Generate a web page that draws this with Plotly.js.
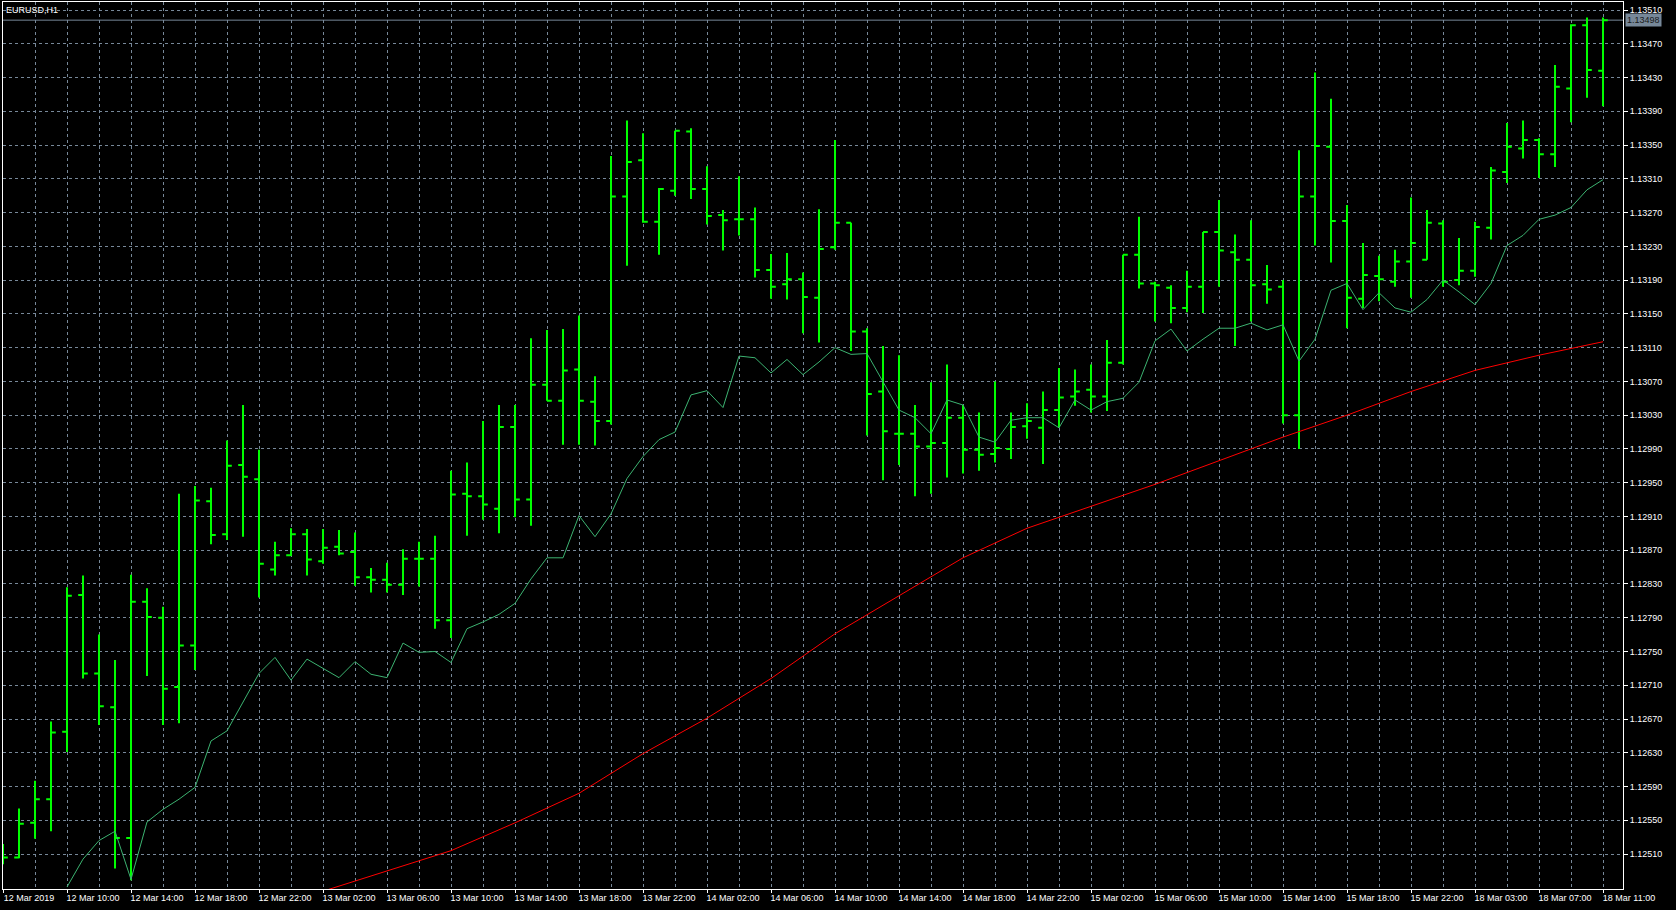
<!DOCTYPE html>
<html>
<head>
<meta charset="utf-8">
<script src="https://cdn.plot.ly/plotly-3.0.1.min.js"></script>
<style>
  html, body { margin: 0; padding: 0; background: #000; }
  #chart { width: 1676px; height: 910px; }
</style>
</head>
<body>
<div id="chart"></div>
<script>
// EURUSD H1 bars (bar index 0 = 12 Mar 2019 06:00)
const openP = [1.12512,1.12506,1.12547,1.12575,1.12655,1.12817,1.12724,1.12684,1.12529,1.12809,
  1.12790,1.12708,1.12757,1.12928,1.12889,1.12971,1.12954,1.12847,1.12864,1.12889,
  1.12857,1.12874,1.12868,1.12838,1.12835,1.12829,1.12860,1.12860,1.12787,1.12937,
  1.12934,1.12919,1.13016,1.12930,1.13066,1.13047,1.13084,1.13046,1.13023,1.13289,
  1.13332,1.13259,1.13296,1.13366,1.13298,1.13267,1.13262,1.13262,1.13202,1.13185,
  1.13191,1.13169,1.13229,1.13258,1.13129,1.13058,1.13008,1.13008,1.12993,1.12997,
  1.13027,1.12989,1.12984,1.12990,1.13017,1.13015,1.13036,1.13052,1.13060,1.13052,
  1.13092,1.13220,1.13186,1.13181,1.13157,1.13182,1.13247,1.13223,1.13214,1.13185,
  1.13182,1.13030,1.13289,1.13348,1.13260,1.13168,1.13195,1.13188,1.13212,1.13214,
  1.13257,1.13190,1.13201,1.13252,1.13318,1.13346,1.13356,1.13339,1.13417,1.13492,
  1.13438];
const highP = [1.12522,1.12564,1.12597,1.12667,1.12826,1.12840,1.12770,1.12740,1.12841,1.12825,
  1.12803,1.12937,1.12946,1.12944,1.13000,1.13042,1.12989,1.12880,1.12896,1.12895,
  1.12895,1.12894,1.12891,1.12849,1.12855,1.12871,1.12880,1.12887,1.12964,1.12974,
  1.13023,1.13042,1.13042,1.13121,1.13131,1.13132,1.13148,1.13076,1.13337,1.13379,
  1.13364,1.13299,1.13367,1.13370,1.13325,1.13273,1.13313,1.13276,1.13221,1.13222,
  1.13199,1.13274,1.13356,1.13258,1.13133,1.13112,1.13101,1.13042,1.13069,1.13090,
  1.13042,1.13033,1.13070,1.13033,1.13044,1.13058,1.13086,1.13084,1.13090,1.13119,
  1.13220,1.13265,1.13188,1.13184,1.13201,1.13247,1.13285,1.13244,1.13261,1.13208,
  1.13190,1.13344,1.13436,1.13405,1.13279,1.13234,1.13219,1.13226,1.13288,1.13273,
  1.13261,1.13240,1.13259,1.13324,1.13376,1.13379,1.13358,1.13445,1.13493,1.13501,
  1.13501];
const lowP = [1.12498,1.12505,1.12528,1.12537,1.12631,1.12718,1.12663,1.12493,1.12479,1.12721,
  1.12663,1.12665,1.12728,1.12877,1.12882,1.12886,1.12814,1.12840,1.12863,1.12840,
  1.12854,1.12864,1.12828,1.12820,1.12820,1.12817,1.12827,1.12777,1.12766,1.12887,
  1.12906,1.12890,1.12909,1.12899,1.13047,1.12995,1.12995,1.12994,1.13019,1.13207,
  1.13258,1.13220,1.13290,1.13286,1.13256,1.13225,1.13243,1.13193,1.13168,1.13167,
  1.13127,1.13116,1.13226,1.13106,1.13006,1.12953,1.12971,1.12934,1.12937,1.12956,
  1.12961,1.12964,1.12974,1.12978,1.13002,1.12972,1.13015,1.13041,1.13033,1.13035,
  1.13090,1.13180,1.13141,1.13139,1.13152,1.13151,1.13182,1.13112,1.13141,1.13162,
  1.13020,1.12990,1.13231,1.13211,1.13133,1.13157,1.13165,1.13182,1.13169,1.13214,
  1.13182,1.13184,1.13194,1.13238,1.13305,1.13334,1.13311,1.13324,1.13377,1.13406,
  1.13396];
const closeP = [1.12506,1.12546,1.12575,1.12654,1.12816,1.12724,1.12685,1.12529,1.12809,1.12791,
  1.12706,1.12757,1.12929,1.12888,1.12970,1.12957,1.12854,1.12864,1.12889,1.12859,
  1.12873,1.12866,1.12838,1.12835,1.12829,1.12860,1.12860,1.12787,1.12936,1.12934,
  1.12924,1.13016,1.12930,1.13066,1.13047,1.13083,1.13047,1.13023,1.13289,1.13330,
  1.13259,1.13298,1.13367,1.13298,1.13266,1.13261,1.13262,1.13202,1.13182,1.13191,
  1.13170,1.13227,1.13258,1.13129,1.13055,1.13011,1.13008,1.12993,1.12997,1.13027,
  1.12989,1.12983,1.12991,1.13016,1.13023,1.13036,1.13051,1.13058,1.13052,1.13092,
  1.13220,1.13186,1.13184,1.13157,1.13182,1.13247,1.13225,1.13214,1.13184,1.13179,
  1.13030,1.13289,1.13349,1.13260,1.13169,1.13196,1.13191,1.13212,1.13234,1.13258,
  1.13188,1.13201,1.13253,1.13320,1.13348,1.13356,1.13339,1.13419,1.13492,1.13439,
  1.13498];

// Fast moving average (sea green), read per bar
const maFast = [null,null,null,null,1.12471,1.12504,1.12526,1.12537,1.12480,1.12548,
  1.12563,1.12575,1.12589,1.12644,1.12656,1.12690,1.12724,1.12743,1.12716,1.12741,
  1.12730,1.12719,1.12738,1.12723,1.12719,1.12760,1.12749,1.12750,1.12737,1.12777,
  1.12785,1.12794,1.12807,1.12836,1.12861,1.12861,1.12911,1.12886,1.12913,1.12955,
  1.12981,1.13001,1.13010,1.13054,1.13059,1.13039,1.13100,1.13098,1.13080,1.13096,
  1.13078,1.13093,1.13110,1.13102,1.13103,1.13069,1.13036,1.13027,1.13008,1.13048,
  1.13042,1.13004,1.12998,1.13024,1.13027,1.13027,1.13015,1.13048,1.13036,1.13046,
  1.13050,1.13069,1.13118,1.13132,1.13106,1.13120,1.13133,1.13133,1.13139,1.13131,
  1.13137,1.13094,1.13120,1.13178,1.13186,1.13155,1.13175,1.13157,1.13152,1.13167,
  1.13190,1.13176,1.13161,1.13186,1.13231,1.13243,1.13262,1.13267,1.13276,1.13297,
  1.13309];

// Slow moving average (red), read every 4 bars
const maSlowBars = [20,24,28,32,36,40,44,48,52,56,60,64,68,72,76,80,84,88,92,96,100];
const maSlow = [1.12466,1.12490,1.12514,1.12547,1.12582,1.12629,1.12671,1.12718,1.12771,1.12816,
  1.12861,1.12896,1.12922,1.12948,1.12976,1.13004,1.13030,1.13058,1.13083,1.13101,1.13117];

// Price axis labels
const yTickVals = [1.12510,1.12550,1.12590,1.12630,1.12670,1.12710,1.12750,1.12790,1.12830,
  1.12870,1.12910,1.12950,1.12990,1.13030,1.13070,1.13110,1.13150,1.13190,1.13230,
  1.13270,1.13310,1.13350,1.13390,1.13430,1.13470,1.13510];

// Time axis labels (every 4 bars)
const xTickBars = [0,4,8,12,16,20,24,28,32,36,40,44,48,52,56,60,64,68,72,76,80,84,88,92,96,100];
const xTickLabels = ["12 Mar 2019","12 Mar 10:00","12 Mar 14:00","12 Mar 18:00","12 Mar 22:00",
  "13 Mar 02:00","13 Mar 06:00","13 Mar 10:00","13 Mar 14:00","13 Mar 18:00","13 Mar 22:00",
  "14 Mar 02:00","14 Mar 06:00","14 Mar 10:00","14 Mar 14:00","14 Mar 18:00","14 Mar 22:00",
  "15 Mar 02:00","15 Mar 06:00","15 Mar 10:00","15 Mar 14:00","15 Mar 18:00","15 Mar 22:00",
  "18 Mar 03:00","18 Mar 07:00","18 Mar 11:00"];

const symbolTitle = "EURUSD,H1";

const barIdx = openP.map((_, i) => i);
const alias = {};
xTickBars.forEach((b, k) => { alias[String(b)] = xTickLabels[k]; });
const lastClose = closeP[closeP.length - 1];

const gridColor = '#778899';
const fontFam = '"Liberation Sans", Arial, sans-serif';

const traces = [
  {
    type: 'scatter', mode: 'lines', x: maSlowBars, y: maSlow,
    line: { color: '#ff0000', width: 1 }, hoverinfo: 'skip', showlegend: false
  },
  {
    type: 'scatter', mode: 'lines', x: barIdx, y: maFast,
    line: { color: '#3cb371', width: 1 }, hoverinfo: 'skip', showlegend: false,
    connectgaps: false
  },
  {
    type: 'ohlc', x: barIdx, open: openP, high: highP, low: lowP, close: closeP,
    increasing: { line: { color: '#00ff00', width: 2 } },
    decreasing: { line: { color: '#00ff00', width: 2 } },
    tickwidth: 0.3, hoverinfo: 'skip', showlegend: false
  }
];

const layout = {
  width: 1676, height: 910,
  paper_bgcolor: '#000', plot_bgcolor: '#000',
  margin: { l: 3, r: 53, t: 2, b: 21 },
  showlegend: false,
  font: { family: fontFam, size: 9, color: '#ffffff' },
  title: {
    text: symbolTitle, xref: 'container', yref: 'container',
    x: 0.0036, xanchor: 'left', y: 1 - 10 / 910, yanchor: 'middle',
    font: { family: fontFam, size: 9, color: '#ffffff' }
  },
  xaxis: {
    range: [0, 101.25], fixedrange: true,
    rangeslider: { visible: false },
    tickmode: 'linear', tick0: 0, dtick: 4,
    labelalias: alias,
    ticks: 'outside', ticklen: 3, tickcolor: '#ffffff',
    ticklabelshift: 26, ticklabeloverflow: 'allow', ticklabelstandoff: -3,
    tickfont: { family: fontFam, size: 9, color: '#ffffff' },
    showgrid: true, gridcolor: gridColor, griddash: '3px,3px', gridwidth: 1,
    minor: { tick0: 0, dtick: 2, showgrid: true, gridcolor: gridColor, griddash: '3px,3px', gridwidth: 1, ticks: '' },
    showline: true, linecolor: '#ffffff', linewidth: 1, mirror: true,
    zeroline: false
  },
  yaxis: {
    range: [1.124686, 1.135195], fixedrange: true,
    side: 'right',
    tickmode: 'array', tickvals: yTickVals, tickformat: '.5f',
    ticks: 'outside', ticklen: 4, tickcolor: '#ffffff',
    tickfont: { family: fontFam, size: 9, color: '#ffffff' },
    showgrid: true, gridcolor: gridColor, griddash: '3px,3px', gridwidth: 1,
    showline: true, linecolor: '#ffffff', linewidth: 1, mirror: true,
    zeroline: false
  },
  shapes: [
    {
      type: 'line', xref: 'paper', x0: 0, x1: 1, yref: 'y', y0: lastClose, y1: lastClose,
      line: { color: gridColor, width: 1 }, layer: 'below'
    }
  ],
  annotations: [
    {
      xref: 'paper', x: 1, xanchor: 'left', xshift: 2,
      yref: 'y', y: lastClose, yanchor: 'middle',
      text: lastClose.toFixed(5), showarrow: false,
      bgcolor: gridColor, borderpad: 1,
      font: { family: fontFam, size: 9, color: '#1a1a1a' }
    }
  ]
};

Plotly.newPlot('chart', traces, layout, { displayModeBar: false, staticPlot: true });
</script>
</body>
</html>
